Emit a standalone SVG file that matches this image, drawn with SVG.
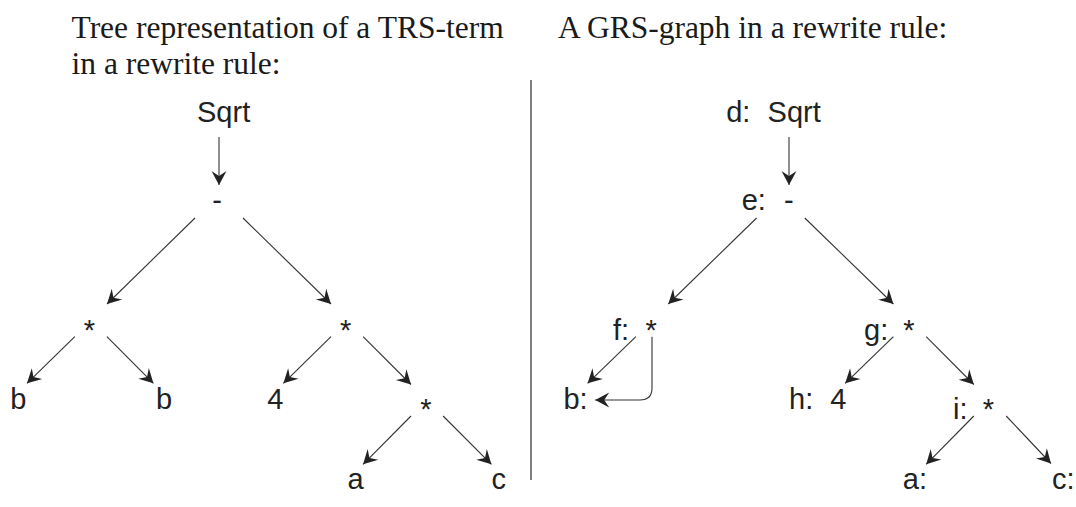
<svg xmlns="http://www.w3.org/2000/svg" width="1076" height="507" viewBox="0 0 1076 507">
<defs>
<style>
.title{font-family:"Liberation Serif","Times New Roman",serif;font-size:31.5px;fill:#1a1a1a}
.n{font-family:"Liberation Sans",Arial,sans-serif;font-size:29px;fill:#222}
.e{stroke:#333;stroke-width:1.1;fill:none;marker-end:url(#ah)}
</style>
<marker id="ah" markerUnits="userSpaceOnUse" markerWidth="18" markerHeight="18" viewBox="-16 -9 18 18" refX="0" refY="0" orient="auto">
<path d="M0,0 L-14,-7.5 L-9,0 L-14,7.5 Z" fill="#222"/>
</marker>
</defs>
<rect width="1076" height="507" fill="#fff"/>
<g id="titles">
<text class="title" x="71.5" y="37.5">Tree representation of a TRS-term</text>
<text class="title" x="71.5" y="74">in a rewrite rule:</text>
<text class="title" x="558" y="37.5">A GRS-graph in a rewrite rule:</text>
</g>
<line id="divider" x1="531" y1="80" x2="531" y2="480" stroke="#555" stroke-width="1.5"/>
<g id="left-tree">
<g id="L-sqrt"><text class="n" x="197" y="122">Sqrt</text></g>
<g id="L-minus"><text class="n" x="217" y="210" text-anchor="middle">-</text></g>
<g id="L-mul1"><text class="n" x="89.5" y="340" text-anchor="middle">*</text></g>
<g id="L-mul2"><text class="n" x="345.7" y="340" text-anchor="middle">*</text></g>
<g id="L-b1"><text class="n" x="10.3" y="408.5">b</text></g>
<g id="L-b2"><text class="n" x="155.9" y="408.5">b</text></g>
<g id="L-4"><text class="n" x="267.2" y="408.5">4</text></g>
<g id="L-mul3"><text class="n" x="425.9" y="419" text-anchor="middle">*</text></g>
<g id="L-a"><text class="n" x="347.6" y="489">a</text></g>
<g id="L-c"><text class="n" x="491.4" y="489">c</text></g>
</g>
<g id="right-graph">
<g id="R-d"><text class="n" x="726.2" y="122">d:<tspan x="767.6">Sqrt</tspan></text></g>
<g id="R-e"><text class="n" x="741.7" y="210">e:<tspan x="784">-</tspan></text></g>
<g id="R-f"><text class="n" x="613" y="340">f:<tspan x="651.2" text-anchor="middle">*</tspan></text></g>
<g id="R-g"><text class="n" x="864" y="340">g:<tspan x="909" text-anchor="middle">*</tspan></text></g>
<g id="R-b"><text class="n" x="563.4" y="408.5">b:</text></g>
<g id="R-h"><text class="n" x="789" y="408.5">h:<tspan x="830.3">4</tspan></text></g>
<g id="R-i"><text class="n" x="953" y="419">i:<tspan x="988.5" text-anchor="middle">*</tspan></text></g>
<g id="R-a"><text class="n" x="902.8" y="489">a:</text></g>
<g id="R-c"><text class="n" x="1052" y="489">c:</text></g>
</g>
<g id="connectors">
<line class="e" x1="219" y1="137" x2="219" y2="185"/>
<line class="e" x1="195" y1="218" x2="107" y2="304"/>
<line class="e" x1="243" y1="218" x2="331" y2="304"/>
<line class="e" x1="74.8" y1="336.7" x2="27" y2="383.3"/>
<line class="e" x1="106.9" y1="336.7" x2="153.4" y2="383.3"/>
<line class="e" x1="331" y1="336.7" x2="283.4" y2="383.3"/>
<line class="e" x1="363.1" y1="336.7" x2="411" y2="384.5"/>
<line class="e" x1="411" y1="416" x2="363.1" y2="464.3"/>
<line class="e" x1="443.1" y1="416" x2="491.4" y2="464.3"/>
<line class="e" x1="789" y1="137" x2="789" y2="185"/>
<line class="e" x1="756.6" y1="218" x2="668.3" y2="304"/>
<line class="e" x1="804.8" y1="218" x2="893.4" y2="304"/>
<line class="e" x1="635.9" y1="336.7" x2="587.6" y2="383.3"/>
<path class="e" d="M652,336.7 L652,388 Q652,400 640,400 L595.2,400"/>
<line class="e" x1="893.4" y1="336.7" x2="845.2" y2="383.3"/>
<line class="e" x1="926.2" y1="336.7" x2="973.8" y2="384.5"/>
<line class="e" x1="973.8" y1="416" x2="926.2" y2="464.3"/>
<line class="e" x1="1006.2" y1="416" x2="1051" y2="463.5"/>
</g>
</svg>
